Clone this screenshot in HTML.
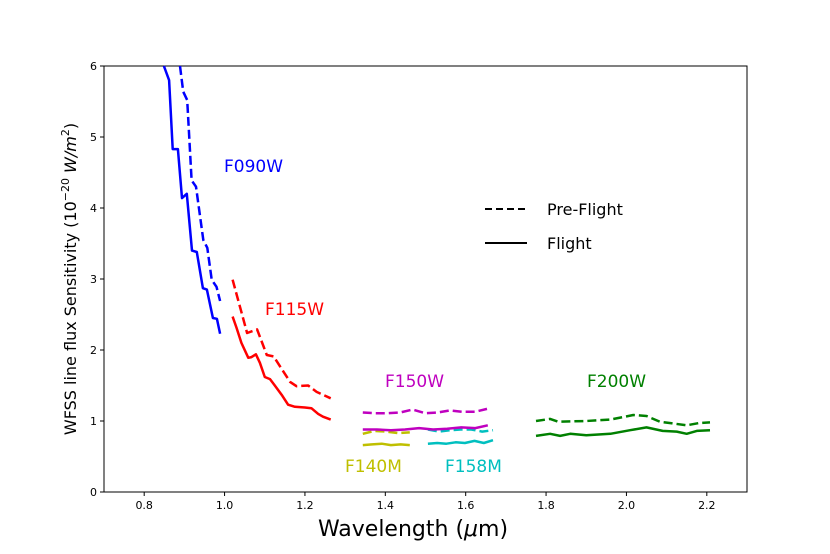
<!DOCTYPE html>
<html><head><meta charset="utf-8"><style>
body{margin:0;background:#fff;}
svg{display:block;font-family:"DejaVu Sans","Liberation Sans",sans-serif;}
</style></head><body>
<svg id="chart" width="830" height="554" viewBox="0 0 830 554" xmlns="http://www.w3.org/2000/svg">
<rect x="104" y="66" width="643" height="426" fill="#fff" stroke="#000" stroke-width="1"/>
<g id="ticks"></g>
<g id="series"></g>
<text transform="translate(76,279) rotate(-90)" text-anchor="middle" font-size="16">WFSS line flux Sensitivity (10<tspan font-size="11" dy="-7">−20</tspan><tspan dy="7" font-style="italic"> W/m</tspan><tspan font-size="11" dy="-7">2</tspan><tspan dy="7">)</tspan></text>
<text x="413" y="536" text-anchor="middle" font-size="22">Wavelength (<tspan font-style="italic">μ</tspan>m)</text>
<g>
<line x1="485" y1="209" x2="527" y2="209" stroke="#000" stroke-width="2" stroke-dasharray="7,4"/>
<text x="547" y="215" font-size="16">Pre-Flight</text>
<line x1="485" y1="243" x2="527" y2="243" stroke="#000" stroke-width="2"/>
<text x="547" y="249" font-size="16">Flight</text>
</g>
<text x="224" y="172" font-size="17" fill="#0000ff">F090W</text>
<text x="265" y="315" font-size="17" fill="#ff0000">F115W</text>
<text x="385" y="387" font-size="17" fill="#bf00bf">F150W</text>
<text x="345" y="472" font-size="17" fill="#bfbf00">F140M</text>
<text x="445" y="472" font-size="17" fill="#00bfbf">F158M</text>
<text x="587" y="387" font-size="17" fill="#008000">F200W</text>
</svg>
<script>
const xTicks=[0.8,1.0,1.2,1.4,1.6,1.8,2.0,2.2];
const yTicks=[0,1,2,3,4,5,6];
const f090Fx=[0.849,0.862,0.871,0.884,0.894,0.906,0.919,0.931,0.946,0.956,0.971,0.981,0.989];
const f090Fy=[6.0,5.8,4.83,4.83,4.14,4.2,3.4,3.38,2.87,2.85,2.45,2.44,2.23];
const f090Px=[0.889,0.897,0.907,0.918,0.929,0.947,0.957,0.968,0.98,0.989];
const f090Py=[6.0,5.64,5.52,4.39,4.3,3.55,3.44,2.99,2.89,2.69];
const f115Px=[1.02,1.056,1.081,1.105,1.122,1.163,1.179,1.208,1.229,1.264];
const f115Py=[2.99,2.24,2.29,1.93,1.91,1.55,1.49,1.5,1.41,1.32];
const f115Fx=[1.02,1.03,1.042,1.059,1.067,1.078,1.088,1.1,1.113,1.125,1.142,1.158,1.175,1.2,1.216,1.233,1.245,1.264];
const f115Fy=[2.47,2.31,2.1,1.89,1.9,1.94,1.82,1.62,1.59,1.5,1.37,1.23,1.2,1.19,1.18,1.1,1.06,1.02];
const f150Px=[1.344,1.375,1.406,1.437,1.468,1.499,1.53,1.561,1.592,1.623,1.653];
const f150Py=[1.12,1.11,1.11,1.12,1.16,1.11,1.12,1.15,1.13,1.13,1.17];
const f150Fx=[1.344,1.379,1.414,1.449,1.484,1.519,1.554,1.589,1.624,1.655];
const f150Fy=[0.88,0.88,0.87,0.88,0.90,0.88,0.89,0.91,0.90,0.94];
const f140Px=[1.344,1.373,1.402,1.432,1.461];
const f140Py=[0.82,0.86,0.85,0.83,0.84];
const f140Fx=[1.344,1.367,1.391,1.414,1.438,1.461];
const f140Fy=[0.66,0.67,0.68,0.66,0.67,0.66];
const f158Px=[1.506,1.533,1.56,1.587,1.614,1.641,1.668];
const f158Py=[0.88,0.85,0.87,0.88,0.88,0.85,0.87];
const f158Fx=[1.506,1.529,1.552,1.575,1.598,1.622,1.645,1.668];
const f158Fy=[0.68,0.69,0.68,0.70,0.69,0.72,0.69,0.73];
const f200Px=[1.775,1.81,1.83,1.9,1.96,2.017,2.05,2.083,2.15,2.18,2.208];
const f200Py=[1.0,1.03,0.99,1.0,1.02,1.085,1.07,0.99,0.94,0.97,0.98];
const f200Fx=[1.775,1.81,1.835,1.86,1.9,1.96,2.009,2.05,2.09,2.125,2.15,2.175,2.208];
const f200Fy=[0.79,0.82,0.79,0.82,0.8,0.82,0.87,0.91,0.86,0.85,0.82,0.86,0.87];

const X0=104,X1=747,Y0=492,Y1=66,XMIN=0.7,XMAX=2.3,YMIN=0,YMAX=6;
function sx(v){return X0+(v-XMIN)/(XMAX-XMIN)*(X1-X0);}
function sy(v){return Y0-(v-YMIN)/(YMAX-YMIN)*(Y0-Y1);}
const NS="http://www.w3.org/2000/svg";
const tg=document.getElementById('ticks');
xTicks.forEach(t=>{
  const l=document.createElementNS(NS,'line');
  l.setAttribute('x1',sx(t));l.setAttribute('x2',sx(t));l.setAttribute('y1',Y0);l.setAttribute('y2',Y0+4);l.setAttribute('stroke','#000');
  
  
  tg.appendChild(l);
  const tx=document.createElementNS(NS,'text');
  tx.setAttribute('x',sx(t));tx.setAttribute('y',Y0+17);tx.setAttribute('text-anchor','middle');tx.setAttribute('font-size','11');
  tx.textContent=t.toFixed(1);
  
  
  tg.appendChild(tx);
});
yTicks.forEach(t=>{
  const l=document.createElementNS(NS,'line');
  l.setAttribute('x1',X0-4);l.setAttribute('x2',X0);l.setAttribute('y1',sy(t));l.setAttribute('y2',sy(t));l.setAttribute('stroke','#000');
  
  
  tg.appendChild(l);
  const tx=document.createElementNS(NS,'text');
  tx.setAttribute('x',X0-7);tx.setAttribute('y',sy(t)+4);tx.setAttribute('text-anchor','end');tx.setAttribute('font-size','11');
  tx.textContent=String(t);
  
  
  tg.appendChild(tx);
});
const sg=document.getElementById('series');
function line(xs,ys,color,dashed,name){
  const p=document.createElementNS(NS,'polyline');
  p.setAttribute('points',xs.map((x,i)=>sx(x).toFixed(1)+','+sy(ys[i]).toFixed(1)).join(' '));
  p.setAttribute('fill','none');p.setAttribute('stroke',color);p.setAttribute('stroke-width','2.5');
  p.setAttribute('stroke-linejoin','round');
  if(dashed)p.setAttribute('stroke-dasharray','9,4');
  
  
  sg.appendChild(p);
}
line(f090Px,f090Py,'#0000ff',true,'f090w-preflight-line');
line(f090Fx,f090Fy,'#0000ff',false,'f090w-flight-line');
line(f115Px,f115Py,'#ff0000',true,'f115w-preflight-line');
line(f115Fx,f115Fy,'#ff0000',false,'f115w-flight-line');
line(f140Px,f140Py,'#bfbf00',true,'f140m-preflight-line');
line(f140Fx,f140Fy,'#bfbf00',false,'f140m-flight-line');
line(f158Px,f158Py,'#00bfbf',true,'f158m-preflight-line');
line(f158Fx,f158Fy,'#00bfbf',false,'f158m-flight-line');
line(f150Px,f150Py,'#bf00bf',true,'f150w-preflight-line');
line(f150Fx,f150Fy,'#bf00bf',false,'f150w-flight-line');
line(f200Px,f200Py,'#008000',true,'f200w-preflight-line');
line(f200Fx,f200Fy,'#008000',false,'f200w-flight-line');
</script>
</body></html>
